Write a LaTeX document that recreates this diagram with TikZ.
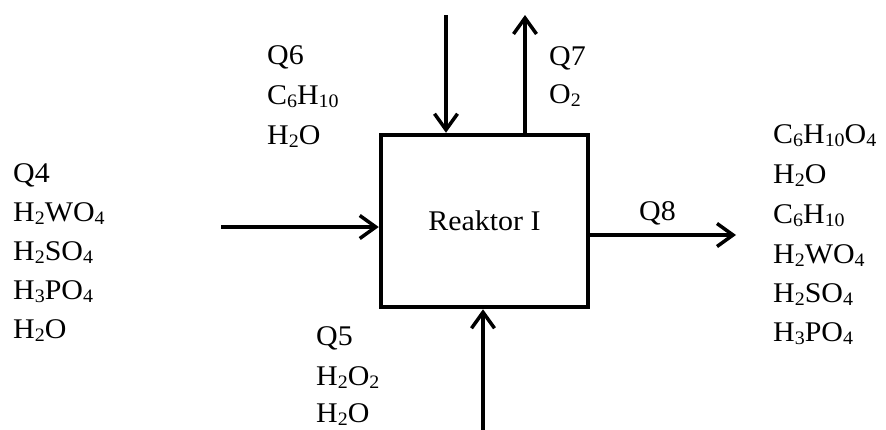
\documentclass[tikz,border=0pt]{standalone}
\usepackage{fontspec}
\setmainfont{Liberation Serif}[FakeStretch=1.05]
\usetikzlibrary{arrows.meta}
\newcommand\sbs[1]{\raisebox{-3pt}{\fontsize{19}{19}\selectfont #1}}
\tikzset{
  lbl/.style={anchor=base west, inner sep=0pt, font=\fontsize{28.5}{32}\selectfont},
  flow/.style={line width=3.5pt, -{Straight Barb[length=16pt,width=23pt,line width=3.5pt]}},
  reactor/.style={draw, line width=4.5pt, minimum width=207pt, minimum height=172pt, inner sep=0pt, font=\fontsize{28.5}{32}\selectfont}
}
\begin{document}
\begin{tikzpicture}[x=1pt,y=-1pt]
\useasboundingbox (0,0) rectangle (886,429);
\node[reactor] (R) at (484.5,221) {\raisebox{-7pt}{Reaktor I}};
% connector end points
\coordinate (inL) at (221,227);
\coordinate (outR) at (736,235);
\coordinate (inT) at (446,15);
\coordinate (outT) at (525,15);
\coordinate (inB) at (483,430);
\draw[flow] (inL) -- (inL -| R.west);
\draw[flow] (R.east |- outR) -- (outR);
\draw[flow] (inT) -- (inT |- R.north);
\draw[flow] (outT |- R.north) -- (outT);
\draw[flow] (inB) -- (inB |- R.south);
% Q4
\node[lbl] (q4a) at (13,182) {Q4};
\node[lbl] (q4b) at (13,221) {H\sbs{2}WO\sbs{4}};
\node[lbl] (q4c) at (13,260) {H\sbs{2}SO\sbs{4}};
\node[lbl] (q4d) at (13,299) {H\sbs{3}PO\sbs{4}};
\node[lbl] (q4e) at (13,338) {H\sbs{2}O};
% Q6
\node[lbl] (q6a) at (267,64) {Q6};
\node[lbl] (q6b) at (267,104) {C\sbs{6}H\sbs{10}};
\node[lbl] (q6c) at (267,144) {H\sbs{2}O};
% Q7
\node[lbl] (q7a) at (549,65) {Q7};
\node[lbl] (q7b) at (549,103) {O\sbs{2}};
% Q5
\node[lbl] (q5a) at (316,345) {Q5};
\node[lbl] (q5b) at (316,385) {H\sbs{2}O\sbs{2}};
\node[lbl] (q5c) at (316,422) {H\sbs{2}O};
% Q8
\node[lbl] (q8) at (639,220) {Q8};
\node[lbl] (q8a) at (773,143) {C\sbs{6}H\sbs{10}O\sbs{4}};
\node[lbl] (q8b) at (773,183) {H\sbs{2}O};
\node[lbl] (q8c) at (773,223) {C\sbs{6}H\sbs{10}};
\node[lbl] (q8d) at (773,263) {H\sbs{2}WO\sbs{4}};
\node[lbl] (q8e) at (773,302) {H\sbs{2}SO\sbs{4}};
\node[lbl] (q8f) at (773,341) {H\sbs{3}PO\sbs{4}};
\end{tikzpicture}
\end{document}
